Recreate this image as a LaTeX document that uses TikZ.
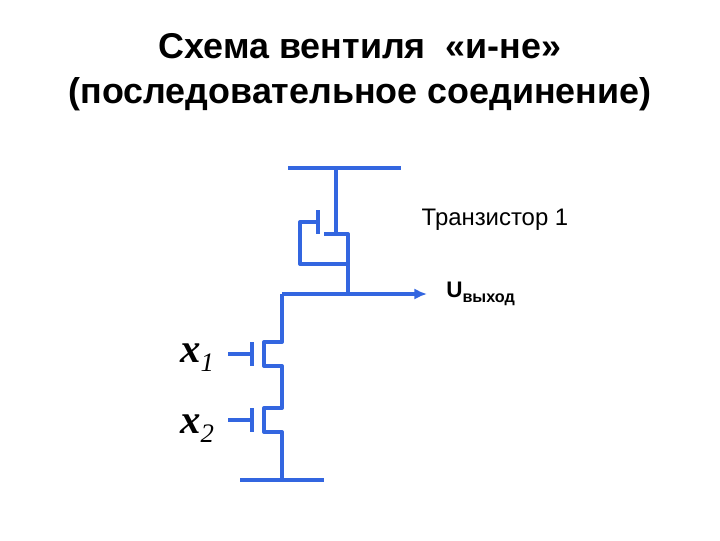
\documentclass[tikz,border=0pt]{standalone}
\usepackage{fontspec}
\setmainfont{Liberation Sans}
\newfontfamily\seriffont{Liberation Serif}
\usetikzlibrary{arrows.meta}
\definecolor{wireblue}{HTML}{3366E0}
\tikzset{
    wire/.style={wireblue, line width=2.8pt, line join=round},
    titletext/.style={font=\bfseries\fontsize{25.5}{32.2}\selectfont, align=center},
    inputlabel/.style={font=\seriffont\bfseries\itshape\fontsize{29}{29}\selectfont, anchor=base west, inner sep=0pt}
}
\begin{document}
\begin{tikzpicture}[x=0.025cm, y=-0.025cm]
    \useasboundingbox (0,0) rectangle (720,540);
    \node[titletext] (title) at (360,72) {Схема вентиля \ «и-не»\\(последовательное соединение)};
    \node[font=\fontsize{17}{20}\selectfont] (label1) at (495,220) {Транзистор 1};
    \node[anchor=base west, inner sep=0pt, font=\bfseries\fontsize{16}{19}\selectfont] (outlabel) at (446,297)
        {U\raisebox{-4pt}{\fontsize{11.5}{13}\selectfont выход}};
    \node[inputlabel] (x1) at (180,362)
        {x\raisebox{-7pt}{\fontsize{19}{19}\selectfont\mdseries 1}};
    \node[inputlabel] (x2) at (180,433)
        {x\raisebox{-7pt}{\fontsize{19}{19}\selectfont\mdseries 2}};
    % upper transistor
    \draw[wire] (288,168) -- (401,168);
    \draw[wire] (336,168) -- (336,234);
    \draw[wire] (324,234) -- (348,234) -- (348,294);
    \draw[wire] (318,210) -- (318,234);
    \draw[wire] (318,222) -- (300,222) -- (300,264) -- (348,264);
    % output
    \draw[wire, -{Latex[length=9pt,width=8pt]}] (282,294) -- (427,294);
    % lower transistors
    \draw[wire] (282,294) -- (282,342) -- (264,342) -- (264,366) -- (282,366)
        -- (282,408) -- (264,408) -- (264,432) -- (282,432) -- (282,480);
    \draw[wire] (240,480) -- (324,480);
    \draw[wire] (252,342) -- (252,366);
    \draw[wire] (228,354) -- (252,354);
    \draw[wire] (252,408) -- (252,432);
    \draw[wire] (228,420) -- (252,420);
\end{tikzpicture}
\end{document}
